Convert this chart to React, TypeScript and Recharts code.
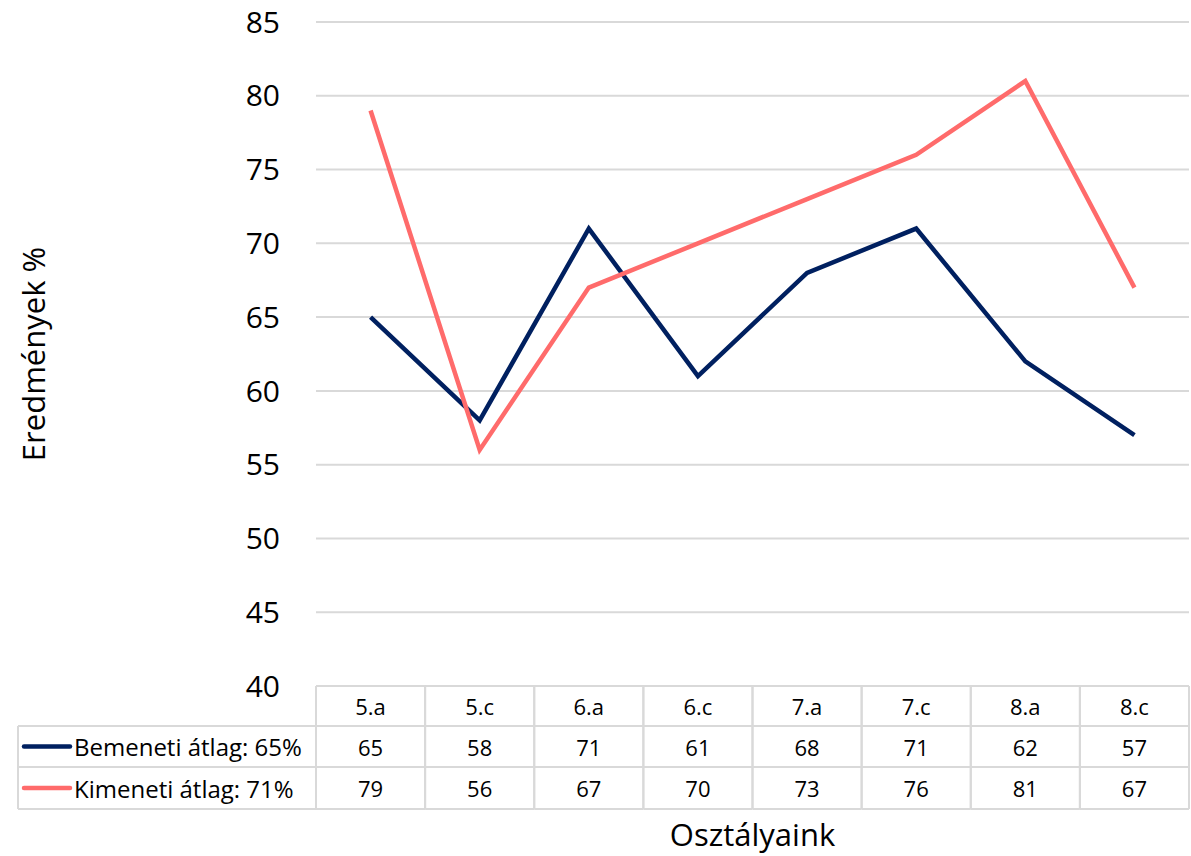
import { LineChart, Line, XAxis, YAxis, CartesianGrid } from 'recharts'

const classes = ['5.a', '5.c', '6.a', '6.c', '7.a', '7.c', '8.a', '8.c']
const bemeneti = [65, 58, 71, 61, 68, 71, 62, 57]
const kimeneti = [79, 56, 67, 70, 73, 76, 81, 67]
const yTicks = [40, 45, 50, 55, 60, 65, 70, 75, 80, 85]

const seriesInfo = [
  { key: 'bemeneti', name: 'Bemeneti átlag: 65%', color: '#002060', values: bemeneti },
  { key: 'kimeneti', name: 'Kimeneti átlag: 71%', color: '#FF6B6B', values: kimeneti },
]

const data = classes.map((c, i) => ({ name: c, bemeneti: bemeneti[i], kimeneti: kimeneti[i] }))

const FONT = "'Open Sans', 'Noto Sans', sans-serif"
const GRID = '#d9d9d9'
const ROW = [40, 41, 42]
const LEFT_EDGE = 18
const PLOT_LEFT = 316
const BAND = (1189 - PLOT_LEFT) / classes.length

function TableTick(props: any) {
  const { x, y, index } = props
  const left = x - BAND / 2
  const top = y
  const r1 = top + ROW[0]
  const r2 = r1 + ROW[1]
  const r3 = r2 + ROW[2]
  const cellText = (ty: number, text: string | number) => (
    <text x={x} y={ty} textAnchor="middle" dominantBaseline="central" fontSize={22} fontFamily={FONT} fill="#000">
      {text}
    </text>
  )
  return (
    <g>
      <line x1={left} x2={left + BAND} y1={top} y2={top} stroke={GRID} strokeWidth={2} />
      <line x1={left} x2={left + BAND} y1={r1} y2={r1} stroke={GRID} strokeWidth={2} />
      <line x1={left} x2={left + BAND} y1={r2} y2={r2} stroke={GRID} strokeWidth={2} />
      <line x1={left} x2={left + BAND} y1={r3} y2={r3} stroke={GRID} strokeWidth={2} />
      <line x1={left} x2={left} y1={top} y2={r3} stroke={GRID} strokeWidth={2} />
      <line x1={left + BAND} x2={left + BAND} y1={top} y2={r3} stroke={GRID} strokeWidth={2} />
      {cellText(top + ROW[0] / 2, classes[index])}
      {cellText(r1 + ROW[1] / 2, bemeneti[index])}
      {cellText(r2 + ROW[2] / 2, kimeneti[index])}
      {index === 0 && (
        <g>
          <line x1={LEFT_EDGE} x2={left} y1={r1} y2={r1} stroke={GRID} strokeWidth={2} />
          <line x1={LEFT_EDGE} x2={left} y1={r2} y2={r2} stroke={GRID} strokeWidth={2} />
          <line x1={LEFT_EDGE} x2={left} y1={r3} y2={r3} stroke={GRID} strokeWidth={2} />
          <line x1={LEFT_EDGE} x2={LEFT_EDGE} y1={r1} y2={r3} stroke={GRID} strokeWidth={2} />
          {seriesInfo.map((s, i) => {
            const cy = (i === 0 ? r1 + ROW[1] / 2 : r2 + ROW[2] / 2)
            return (
              <g key={s.key}>
                <line x1={24} x2={70} y1={cy} y2={cy} stroke={s.color} strokeWidth={4.5} strokeLinecap="round" />
                <text x={74} y={cy} dominantBaseline="central" fontSize={24} fontFamily={FONT} fill="#000">
                  {s.name}
                </text>
              </g>
            )
          })}
        </g>
      )}
    </g>
  )
}

export default function App() {
  return (
    <div style={{ position: 'absolute', left: 0, top: 0, background: '#fff' }}>
      <LineChart width={1191} height={856} data={data} margin={{ top: 22, right: 2, left: 0, bottom: 0 }}>
        <CartesianGrid stroke={GRID} strokeWidth={2} vertical={false} />
        <XAxis
          dataKey="name"
          axisLine={false}
          tickLine={false}
          tickSize={0}
          tickMargin={0}
          height={170}
          interval={0}
          padding={{ left: BAND / 2, right: BAND / 2 }}
          tick={<TableTick />}
          label={{ value: 'Osztályaink', position: 'insideBottom', offset: 10, fontSize: 31, fontFamily: FONT, fill: '#000' }}
        />
        <YAxis
          domain={[40, 85]}
          ticks={yTicks}
          width={PLOT_LEFT}
          axisLine={false}
          tickLine={false}
          tickSize={0}
          tickMargin={36}
          tick={{ fontSize: 30, fontFamily: FONT, fill: '#000' }}
          label={{ value: 'Eredmények %', angle: -90, position: 'insideLeft', offset: 34, fontSize: 31, fontFamily: FONT, fill: '#000', style: { textAnchor: 'middle' } }}
        />
        {seriesInfo.map(s => (
          <Line
            key={s.key}
            type="linear"
            dataKey={s.key}
            name={s.name}
            stroke={s.color}
            strokeWidth={4.5}
            dot={false}
            activeDot={false}
            isAnimationActive={false}
          />
        ))}
      </LineChart>
    </div>
  )
}
